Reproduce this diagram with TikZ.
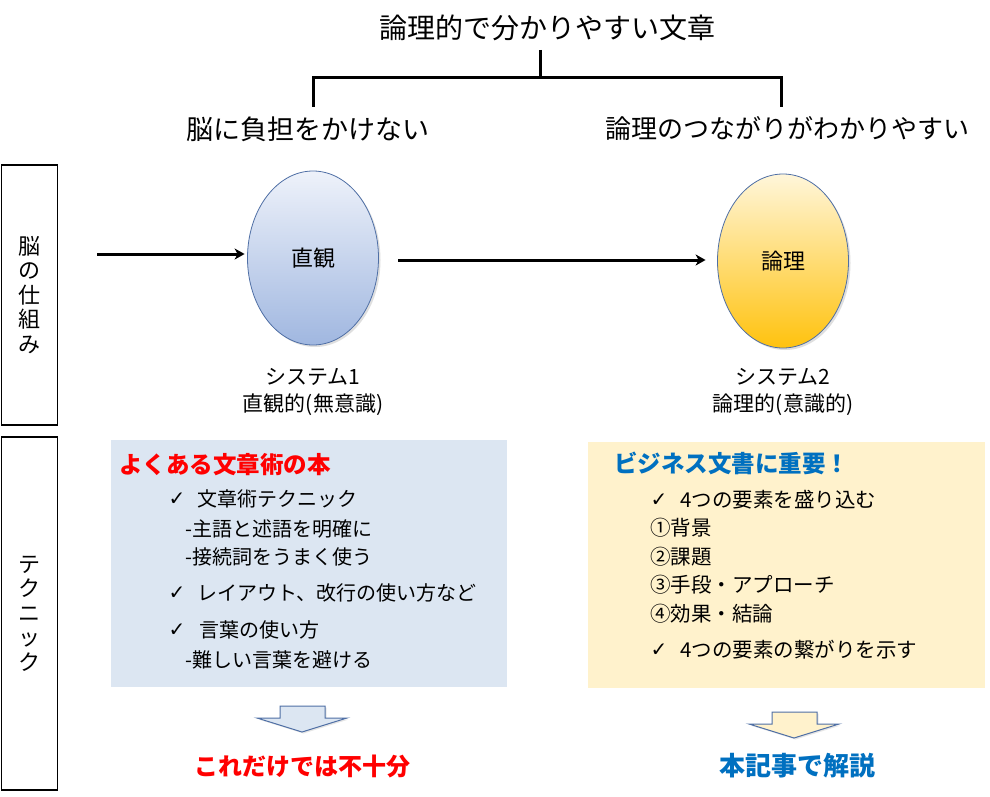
\documentclass[tikz,border=0pt]{standalone}
\usepackage{fontspec}
\setmainfont{Noto Sans CJK JP}
\newfontfamily\symf{DejaVu Sans}
\usetikzlibrary{shapes.geometric,arrows.meta,shadows}
\definecolor{bboxc}{HTML}{DCE6F2}
\definecolor{yboxc}{HTML}{FFF2CC}
\definecolor{redc}{HTML}{FF0000}
\definecolor{bluec}{HTML}{0070C0}
\definecolor{edgec}{HTML}{4F6FA5}
\definecolor{e1top}{HTML}{EEF2FA}
\definecolor{e1bot}{HTML}{A0B7E0}
\definecolor{e2top}{HTML}{FFF6DA}
\definecolor{e2bot}{HTML}{FFC20E}
\begin{document}
\begin{tikzpicture}[x=1pt,y=-1pt,
  ttl/.style={inner sep=0pt, font=\fontsize{28}{32}\selectfont},
  subl/.style={inner sep=0pt, font=\fontsize{27}{31}\selectfont},
  subr/.style={inner sep=0pt, font=\fontsize{26}{30}\selectfont},
  tree/.style={line width=3pt},
  sidebox/.style={draw=black, line width=1.2pt, minimum width=56pt, inner sep=0pt, align=center, font=\fontsize{22}{24.5}\selectfont},
  ell/.style={ellipse, minimum width=131pt, minimum height=174pt, inner sep=0pt, draw=edgec, line width=0.8pt, font=\fontsize{22}{26}\selectfont, drop shadow={shadow xshift=2pt, shadow yshift=-2pt, opacity=0.25}},
  arr/.style={line width=3pt, -{Stealth[length=10pt,width=11pt,inset=3pt]}},
  captxt/.style={inner sep=0pt, font=\fontsize{21}{25}\selectfont},
  head/.style={inner sep=0pt, anchor=west, font=\fontsize{23.5}{28}\selectfont\bfseries},
  item/.style={inner sep=0pt, anchor=west, font=\fontsize{20}{24}\selectfont},
  itemr/.style={inner sep=0pt, anchor=west, font=\fontsize{20.5}{24}\selectfont},
  chk/.style={inner sep=0pt, font=\symf\fontsize{20}{22}\selectfont},
  darr/.style={draw=edgec, line width=1pt, line join=miter, drop shadow={shadow xshift=1.5pt, shadow yshift=-1.5pt, opacity=0.2}},
  foot/.style={inner sep=0pt}
]
\path[use as bounding box, fill=white] (0,0) rectangle (990,797);

% top tree
\node[ttl] (title) at (547,28) {論理的で分かりやすい文章};
\coordinate (tt) at (540,50);
\coordinate (tj) at (540,78);
\coordinate (tl) at (313,107);
\coordinate (tr) at (781,107);
\draw[tree] (tt) -- (tj);
\draw[tree] (tl) |- (tj) -| (tr);
\node[subl] (left) at (308,129) {脳に負担をかけない};
\node[subr] (right) at (787,129) {論理のつながりがわかりやすい};

% side boxes
\node[sidebox, minimum height=260pt] (sb1) at (29.5,295) {脳\\の\\仕\\組\\み};
\node[sidebox, minimum height=353pt] (sb2) at (29.5,613.5) {テ\\ク\\ニ\\ッ\\ク};

% ellipses
\node[ell, top color=e1top, bottom color=e1bot] (e1) at (313,258) {直観};
\node[ell, top color=e2top, bottom color=e2bot] (e2) at (783,261) {論理};
\coordinate (a0) at (97,254);
\coordinate (a1) at (398,260);
\draw[arr, shorten >=2.5pt] (a0) -- (a0 -| e1.west);
\draw[arr, shorten >=11.5pt] (a1) -- (a1 -| e2.west);

\node[captxt] (c1a) at (313,377) {システム1};
\node[captxt] (c1b) at (313,405) {直観的(無意識)};
\node[captxt] (c2a) at (783,377) {システム2};
\node[captxt] (c2b) at (783,405) {論理的(意識的)};

% boxes
\fill[bboxc] (111,440) rectangle (507,687);
\fill[yboxc] (588,442) rectangle (985,688);

\node[head, text=redc] (bt) at (119,465) {よくある文章術の本};
\node[chk] (k1) at (177,499) {✓};
\node[item] (i1) at (197,499) {文章術テクニック};
\node[item] (i2) at (185,529) {-主語と述語を明確に};
\node[item] (i3) at (185,557) {-接続詞をうまく使う};
\node[chk] (k2) at (177,593) {✓};
\node[item] (i4) at (197,593) {レイアウト、改行の使い方など};
\node[chk] (k3) at (177,630) {✓};
\node[item] (i5) at (199,630) {言葉の使い方};
\node[item] (i6) at (185,660) {-難しい言葉を避ける};

\node[head, text=bluec] (yt) at (614,463) {ビジネス文書に重要！};
\node[chk] (k4) at (659,500) {✓};
\node[itemr] (j1) at (680,500) {4つの要素を盛り込む};
\node[itemr] (j2) at (650,528) {①背景};
\node[itemr] (j3) at (650,557) {②課題};
\node[itemr] (j4) at (650,585) {③手段・アプローチ};
\node[itemr] (j5) at (650,614) {④効果・結論};
\node[chk] (k5) at (659,650) {✓};
\node[itemr] (j6) at (680,650) {4つの要素の繋がりを示す};

% down arrows
\draw[darr, fill=bboxc] (280,706) -- (325,706) -- (325,718) -- (347,718) -- (302,732) -- (257,718) -- (280,718) -- cycle;
\draw[darr, fill=yboxc] (772,712) -- (817,712) -- (817,724) -- (839,724) -- (794,738) -- (749,724) -- (772,724) -- cycle;

\node[foot, text=redc, font=\fontsize{24}{28}\selectfont\bfseries] (f1) at (302,766) {これだけでは不十分};
\node[foot, text=bluec, font=\fontsize{26}{30}\selectfont\bfseries] (f2) at (797,766) {本記事で解説};
\end{tikzpicture}
\end{document}
